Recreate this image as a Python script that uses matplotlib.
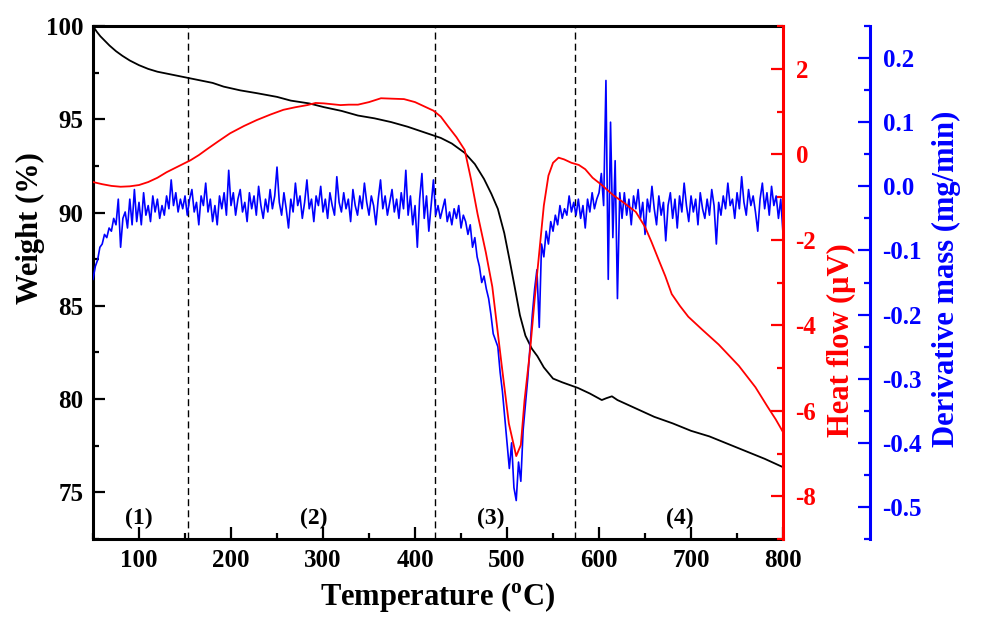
"""TGA / DSC / DTG curves vs temperature."""

import numpy as np
import matplotlib

matplotlib.use('Agg')
import matplotlib.pyplot as plt
from matplotlib.ticker import MultipleLocator
from matplotlib.transforms import blended_transform_factory

plt.rcParams['font.family'] = ['Liberation Serif', 'DejaVu Serif']
plt.rcParams['font.weight'] = 'bold'
plt.rcParams['mathtext.fontset'] = 'custom'
plt.rcParams['mathtext.rm'] = 'Liberation Serif:bold'
plt.rcParams['mathtext.bf'] = 'Liberation Serif:bold'
plt.rcParams['axes.unicode_minus'] = False

# weight loss (TG)
weight_temp = [50, 54, 58, 63, 68, 75, 82, 90, 100, 110, 120, 135, 150, 165, 180, 192,
               210, 228, 250, 265, 285, 301, 320, 338, 356, 374, 392, 410, 428, 440,
               454, 465, 475, 483, 490, 497, 503, 508, 514, 520, 527, 533, 540, 550,
               560, 577, 590, 603, 608, 614, 620, 640, 660, 680, 700, 720, 740, 760,
               780, 800]
weight_pct = [100.0, 99.7, 99.45, 99.2, 98.95, 98.65, 98.4, 98.15, 97.9, 97.7, 97.55,
              97.4, 97.25, 97.1, 96.95, 96.75, 96.55, 96.4, 96.2, 96.0, 95.85, 95.65,
              95.45, 95.2, 95.05, 94.85, 94.6, 94.3, 94.0, 93.7, 93.2, 92.6, 91.8, 91.0,
              90.2, 88.9, 87.4, 86.1, 84.5, 83.4, 82.7, 82.3, 81.7, 81.1, 80.9, 80.6,
              80.3, 79.95, 80.05, 80.15, 79.95, 79.5, 79.05, 78.7, 78.3, 78.0, 77.6,
              77.2, 76.8, 76.35]

# heat flow (DSC)
hf_temp = [50, 60, 70, 80, 90, 100, 110, 120, 130, 143, 156, 165, 174, 186, 199, 214,
           228, 243, 257, 270, 283, 292, 301, 310, 319, 328, 338, 350, 363, 375, 388,
           400, 410, 420, 428, 436, 445, 454, 461, 468, 477, 484, 494, 502, 510, 515,
           519, 525, 530, 535, 540, 545, 550, 556, 562, 570, 578, 585, 593, 603, 615,
           628, 640, 650, 657, 665, 672, 679, 688, 697, 712, 730, 752, 770, 783, 792, 800]
heat_flow = [-0.65, -0.70, -0.74, -0.76, -0.75, -0.72, -0.65, -0.55, -0.42, -0.28, -0.14,
             -0.02, 0.12, 0.30, 0.49, 0.66, 0.80, 0.93, 1.04, 1.10, 1.15, 1.20, 1.19,
             1.17, 1.15, 1.16, 1.16, 1.22, 1.31, 1.30, 1.29, 1.22, 1.12, 1.02, 0.88,
             0.65, 0.40, 0.10, -0.60, -1.40, -2.30, -3.10, -4.90, -6.30, -7.06, -6.80,
             -5.76, -4.60, -3.40, -2.30, -1.20, -0.50, -0.20, -0.08, -0.12, -0.20, -0.25,
             -0.35, -0.55, -0.72, -0.95, -1.15, -1.35, -1.70, -2.05, -2.48, -2.85, -3.27,
             -3.55, -3.80, -4.10, -4.45, -4.95, -5.45, -5.90, -6.20, -6.50]

# derivative mass (DTG), sampled every 2.5 C from 50 to 800
dtg_temp = np.arange(50, 800.1, 2.5)
dtg = [
    -0.145, -0.125, -0.115, -0.095, -0.090, -0.075, -0.080, -0.065, -0.070, -0.050,
    -0.060, -0.020, -0.095, -0.050, -0.040, -0.065, -0.020, -0.060, -0.005, -0.055,
    -0.025, -0.060, -0.010, -0.045, -0.030, -0.055, -0.015, -0.040, -0.020, -0.050,
    -0.030, -0.045, -0.015, -0.035, 0.010, -0.030, -0.010, -0.040, -0.020, -0.035,
    -0.015, -0.045, -0.020, -0.005, -0.040, -0.025, -0.060, -0.015, -0.030, 0.005,
    -0.040, -0.020, -0.055, -0.030, -0.060, -0.015, -0.035, -0.010, -0.045, 0.025,
    -0.030, -0.010, -0.045, -0.020, -0.005, -0.040, -0.025, -0.055, -0.010, -0.035,
    -0.015, -0.045, 0.000, -0.030, -0.050, -0.020, -0.040, -0.005, -0.035, -0.015,
    0.030, -0.025, -0.045, -0.010, -0.035, -0.065, -0.020, -0.040, 0.005, -0.030,
    -0.015, -0.050, -0.025, 0.010, -0.035, -0.020, -0.055, -0.015, -0.030, 0.000,
    -0.040, -0.020, -0.050, -0.010, -0.030, -0.045, 0.015, -0.025, -0.040, -0.010,
    -0.035, -0.020, -0.055, -0.005, -0.030, -0.045, -0.015, -0.035, 0.005, -0.025,
    -0.045, -0.015, -0.030, -0.060, -0.020, 0.010, -0.035, -0.015, -0.045, -0.025,
    -0.005, -0.040, -0.020, -0.050, -0.010, -0.035, 0.025, -0.045, -0.015, -0.060,
    -0.030, -0.095, -0.020, 0.020, -0.050, -0.015, -0.070, -0.030, 0.010, -0.045,
    -0.030, -0.050, -0.035, -0.020, -0.055, -0.040, -0.060, -0.035, -0.050, -0.030,
    -0.065, -0.045, -0.055, -0.075, -0.060, -0.095, -0.080, -0.110, -0.125, -0.150,
    -0.140, -0.160, -0.175, -0.200, -0.230, -0.240, -0.250, -0.290, -0.320, -0.360,
    -0.400, -0.440, -0.400, -0.470, -0.490, -0.430, -0.460, -0.380, -0.340, -0.300,
    -0.250, -0.200, -0.160, -0.130, -0.220, -0.090, -0.110, -0.070, -0.090, -0.055,
    -0.070, -0.045, -0.060, -0.030, -0.050, -0.035, -0.045, -0.015, -0.040, -0.025,
    -0.045, -0.020, -0.050, -0.030, -0.065, -0.020, -0.040, -0.010, -0.035, -0.020,
    -0.010, 0.020, -0.030, 0.165, -0.145, 0.100, -0.080, 0.040, -0.175, -0.010,
    -0.050, -0.010, -0.045, -0.020, -0.060, -0.015, -0.035, -0.005, -0.050, -0.025,
    -0.075, -0.020, -0.040, 0.000, -0.035, -0.060, -0.015, -0.045, -0.025, -0.085,
    -0.030, -0.010, -0.050, -0.020, -0.065, -0.015, -0.040, 0.005, -0.030, -0.055,
    -0.015, -0.040, -0.020, -0.060, -0.010, -0.035, -0.050, -0.020, -0.045, -0.005,
    -0.030, -0.090, -0.025, -0.045, -0.015, -0.035, 0.005, -0.030, -0.020, -0.050,
    -0.010, -0.035, 0.015, -0.025, -0.045, -0.005, -0.030, -0.015, -0.040, -0.070,
    -0.020, 0.005, -0.035, -0.010, -0.045, 0.000, -0.030, -0.015, -0.050, -0.020, -0.075,
]

stage_bounds = [153, 422, 574]
stage_labels = ['(1)', '(2)', '(3)', '(4)']
stage_label_temp = [100, 290, 482, 688]

RED = '#ff0000'
BLUE = '#0000ff'

fig = plt.figure(figsize=(9.83, 6.19), dpi=100)
ax = fig.add_axes([0.0946, 0.1292, 0.7020, 0.8288])
ax_dtg = ax.twinx()
ax_hf = ax.twinx()

ax.plot(weight_temp, weight_pct, color='black', linewidth=1.3)
ax_dtg.plot(dtg_temp, dtg, color=BLUE, linewidth=1.2)
ax_hf.plot(hf_temp, heat_flow, color=RED, linewidth=1.3)

for t in stage_bounds:
    ax.axvline(t, color='black', linestyle=(0, (5, 3)), linewidth=1.0)
trans = blended_transform_factory(ax.transData, ax.transAxes)
for t, lab in zip(stage_label_temp, stage_labels):
    ax.text(t, 0.04, lab, transform=trans, ha='center', va='center',
            fontsize=17, fontweight='bold')

ax.set_xlim(50, 800)
ax.set_ylim(72.5, 100)
ax_hf.set_ylim(-9, 3)
ax_dtg.set_ylim(-0.55, 0.25)

ax.xaxis.set_major_locator(MultipleLocator(100))
ax.xaxis.set_minor_locator(MultipleLocator(50))
ax.yaxis.set_major_locator(MultipleLocator(5))
ax.yaxis.set_minor_locator(MultipleLocator(2.5))
ax_hf.yaxis.set_major_locator(MultipleLocator(2))
ax_hf.yaxis.set_minor_locator(MultipleLocator(1))
ax_dtg.yaxis.set_major_locator(MultipleLocator(0.1))
ax_dtg.yaxis.set_minor_locator(MultipleLocator(0.05))
ax_dtg.yaxis.set_major_formatter(plt.FormatStrFormatter('%.1f'))

ax.tick_params(axis='both', which='both', direction='in', labelsize=18, width=1.6, pad=7)
ax.tick_params(which='major', length=8.5)
ax.tick_params(which='minor', length=4.5)
ax.tick_params(axis='x', top=False)
for a, c, pad in [(ax_hf, RED, 9), (ax_dtg, BLUE, 9)]:
    a.tick_params(axis='y', which='both', direction='in', colors=c, labelsize=18,
                  width=1.6, pad=pad)
    a.tick_params(axis='y', which='major', length=8.5)
    a.tick_params(axis='y', which='minor', length=4.5)
    for s in ['left', 'top', 'bottom']:
        a.spines[s].set_visible(False)
    a.spines['right'].set_color(c)
    a.spines['right'].set_linewidth(2.2)

ax_dtg.spines['right'].set_position(('axes', 1.126))
ax.spines['right'].set_visible(False)
for s in ['left', 'top', 'bottom']:
    ax.spines[s].set_linewidth(2.2)

ax.set_xlabel('Temperature ($^{\\mathrm{o}}$C)', fontsize=22, fontweight='bold', labelpad=6)
ax.set_ylabel('Weight (%)', fontsize=22, fontweight='bold')
ax.yaxis.set_label_coords(-0.07, 0.606)
ax_hf.set_ylabel('Heat flow (\u03bcV)', fontsize=22, fontweight='bold', color=RED,
                 rotation=90)
ax_hf.yaxis.set_label_coords(1.063, 0.388)
ax_dtg.set_ylabel('Derivative mass (mg/min)', fontsize=22, fontweight='bold', color=BLUE,
                  rotation=90)
ax_dtg.yaxis.set_label_coords(1.216, 0.508)

fig.savefig('out.png', dpi=100)
